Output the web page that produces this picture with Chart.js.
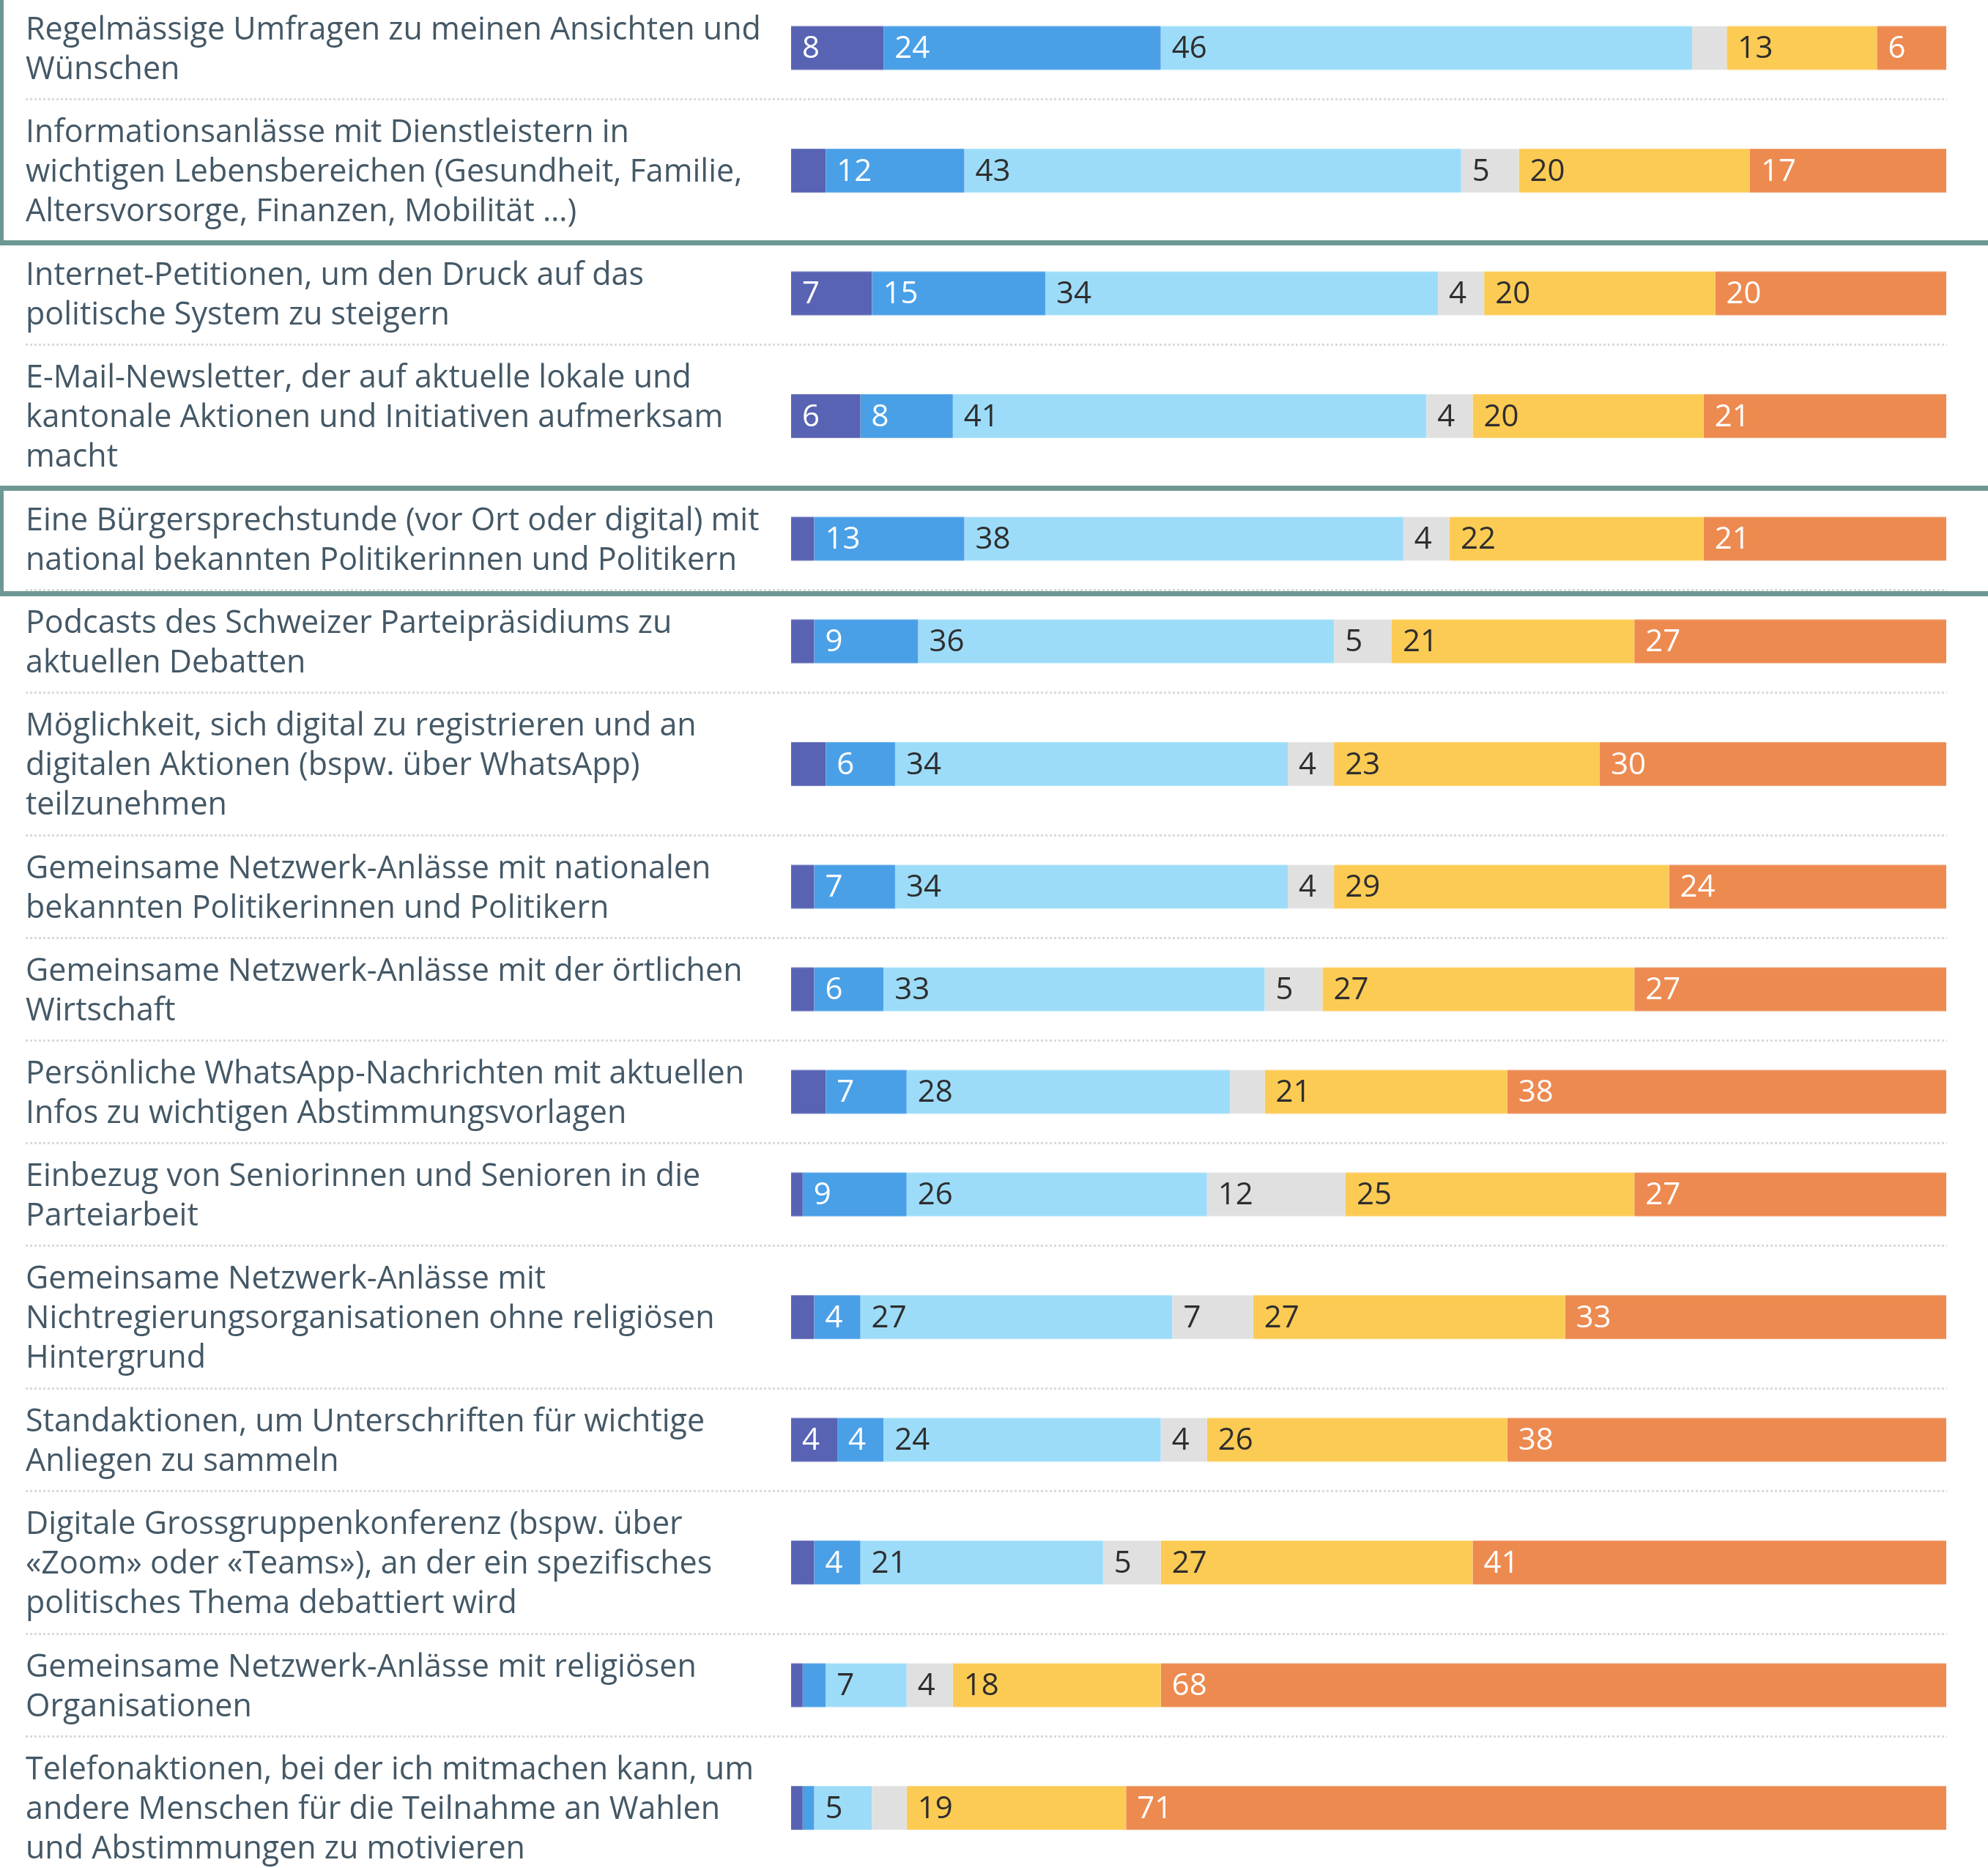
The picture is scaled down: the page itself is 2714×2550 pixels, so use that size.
<!DOCTYPE html>
<html>
<head>
<meta charset="utf-8">
<script src="https://cdn.jsdelivr.net/npm/chart.js@4/dist/chart.umd.min.js"></script>
<style>
html, body { margin:0; padding:0; background:#fff; overflow:hidden; width:2714px; height:2550px; }
#wrap { position:relative; margin-top:-3px; width:2714px; }
.row { position:relative; width:2714px; }
.sep { height:3px; margin:0 56px 0 35px; background:repeating-linear-gradient(to right,#dadada 0 3px,transparent 3px 6px); }
.grp { position:relative; }
.grp .frame { position:absolute; left:0; right:-30px; border-style:solid; border-color:#6e9794; border-width:7px 7px 7px 5px; z-index:5; pointer-events:none; }
</style>
</head>
<body>
<div id="wrap"></div>
<script>
const categories = [
  ["Regelmässige Umfragen zu meinen Ansichten und", "Wünschen"],
  ["Informationsanlässe mit Dienstleistern in", "wichtigen Lebensbereichen (Gesundheit, Familie,", "Altersvorsorge, Finanzen, Mobilität …)"],
  ["Internet-Petitionen, um den Druck auf das", "politische System zu steigern"],
  ["E-Mail-Newsletter, der auf aktuelle lokale und", "kantonale Aktionen und Initiativen aufmerksam", "macht"],
  ["Eine Bürgersprechstunde (vor Ort oder digital) mit", "national bekannten Politikerinnen und Politikern"],
  ["Podcasts des Schweizer Parteipräsidiums zu", "aktuellen Debatten"],
  ["Möglichkeit, sich digital zu registrieren und an", "digitalen Aktionen (bspw. über WhatsApp)", "teilzunehmen"],
  ["Gemeinsame Netzwerk-Anlässe mit nationalen", "bekannten Politikerinnen und Politikern"],
  ["Gemeinsame Netzwerk-Anlässe mit der örtlichen", "Wirtschaft"],
  ["Persönliche WhatsApp-Nachrichten mit aktuellen", "Infos zu wichtigen Abstimmungsvorlagen"],
  ["Einbezug von Seniorinnen und Senioren in die", "Parteiarbeit"],
  ["Gemeinsame Netzwerk-Anlässe mit", "Nichtregierungsorganisationen ohne religiösen", "Hintergrund"],
  ["Standaktionen, um Unterschriften für wichtige", "Anliegen zu sammeln"],
  ["Digitale Grossgruppenkonferenz (bspw. über", "«Zoom» oder «Teams»), an der ein spezifisches", "politisches Thema debattiert wird"],
  ["Gemeinsame Netzwerk-Anlässe mit religiösen", "Organisationen"],
  ["Telefonaktionen, bei der ich mitmachen kann, um", "andere Menschen für die Teilnahme an Wahlen", "und Abstimmungen zu motivieren"]
];

const seriesNames = ["sehr gerne", "eher gerne", "teils / teils", "weiss nicht", "eher nicht", "gar nicht"];
const sehrGerne  = [8, 3, 7, 6, 2, 2, 3, 2, 2, 3, 1, 2, 4, 2, 1, 1];
const eherGerne  = [24, 12, 15, 8, 13, 9, 6, 7, 6, 7, 9, 4, 4, 4, 2, 1];
const teilsTeils = [46, 43, 34, 41, 38, 36, 34, 34, 33, 28, 26, 27, 24, 21, 7, 5];
const weissNicht = [3, 5, 4, 4, 4, 5, 4, 4, 5, 3, 12, 7, 4, 5, 4, 3];
const eherNicht  = [13, 20, 20, 20, 22, 21, 23, 29, 27, 21, 25, 27, 26, 27, 18, 19];
const garNicht   = [6, 17, 20, 21, 21, 27, 30, 24, 27, 38, 27, 33, 38, 41, 68, 71];
const series = [sehrGerne, eherGerne, teilsTeils, weissNicht, eherNicht, garNicht];

const highlighted = [[0, 1], [4, 4]];

const colors = ["#5863b3", "#4aa0e7", "#9cdcf9", "#e0e0e0", "#fccb54", "#ed8a50"];
const edgeColors = ["#8189c7", "#7cb9ee", "#bde8fb", "#ebebeb", "#fddb8b", "#f3ad84"];
const labelColors = ["#ffffff", "#ffffff", "#2e2e2e", "#2e2e2e", "#2e2e2e", "#ffffff"];
const FONT = "'Open Sans', 'Noto Sans', sans-serif";
const FSIZE = 43;
const LSIZE = 42;

const segLabels = {
  id: 'segLabels',
  afterDatasetsDraw(chart) {
    const ctx = chart.ctx;
    ctx.save();
    ctx.font = LSIZE + "px " + FONT;
    ctx.textBaseline = 'middle';
    ctx.textAlign = 'left';
    chart.data.datasets.forEach((ds, k) => {
      const meta = chart.getDatasetMeta(k);
      meta.data.forEach((bar, j) => {
        const v = ds.data[j];
        if (v < 4) return;
        const left = Math.min(bar.x, bar.base);
        ctx.fillStyle = labelColors[k];
        ctx.fillText(String(v), left + 15, bar.y + 2);
      });
    });
    ctx.restore();
  }
};

const wrap = document.getElementById('wrap');

function makeRow(i, parent) {
  const lines = categories[i].length;
  const h = 27 + 55 * lines;
  const row = document.createElement('div');
  row.className = 'row';
  row.style.height = h + 'px';
  const cv = document.createElement('canvas');
  row.appendChild(cv);
  parent.appendChild(row);
  const sep = document.createElement('div');
  sep.className = 'sep';
  parent.appendChild(sep);

  new Chart(cv, {
    type: 'bar',
    data: {
      labels: [categories[i]],
      datasets: series.map((s, k) => ({
        label: seriesNames[k],
        data: [s[i]],
        backgroundColor: colors[k],
        borderColor: edgeColors[k],
        borderWidth: { top: 1, bottom: 1, left: 0, right: 0 },
        borderSkipped: false,
        barThickness: 60,
        clip: false
      }))
    },
    options: {
      indexAxis: 'y',
      responsive: true,
      maintainAspectRatio: false,
      animation: false,
      devicePixelRatio: 1,
      layout: { padding: { left: 35, right: 57, top: 0, bottom: 0 } },
      plugins: { legend: { display: false }, tooltip: { enabled: false } },
      scales: {
        x: { stacked: true, min: 0, max: 100, display: false },
        y: {
          stacked: true,
          grid: { display: false },
          border: { display: false },
          ticks: {
            crossAlign: 'far',
            padding: 0,
            labelOffset: 3,
            color: '#445866',
            font: { family: FONT, size: FSIZE, lineHeight: 54 / FSIZE }
          },
          afterFit: (s) => { s.width = 1045; s.paddingTop = 0; s.paddingBottom = 0; }
        }
      }
    },
    plugins: [segLabels]
  });
}

let i = 0;
while (i < categories.length) {
  const hl = highlighted.find(r => r[0] === i);
  if (hl) {
    const grp = document.createElement('div');
    grp.className = 'grp';
    wrap.appendChild(grp);
    for (let j = hl[0]; j <= hl[1]; j++) makeRow(j, grp);
    const frame = document.createElement('div');
    frame.className = 'frame';
    if (i === 0) { frame.style.top = '-20px'; frame.style.bottom = '-3px'; }
    else { frame.style.top = '-4px'; frame.style.bottom = '-7px'; }
    grp.appendChild(frame);
    i = hl[1] + 1;
  } else {
    makeRow(i, wrap);
    i++;
  }
}
</script>
</body>
</html>
